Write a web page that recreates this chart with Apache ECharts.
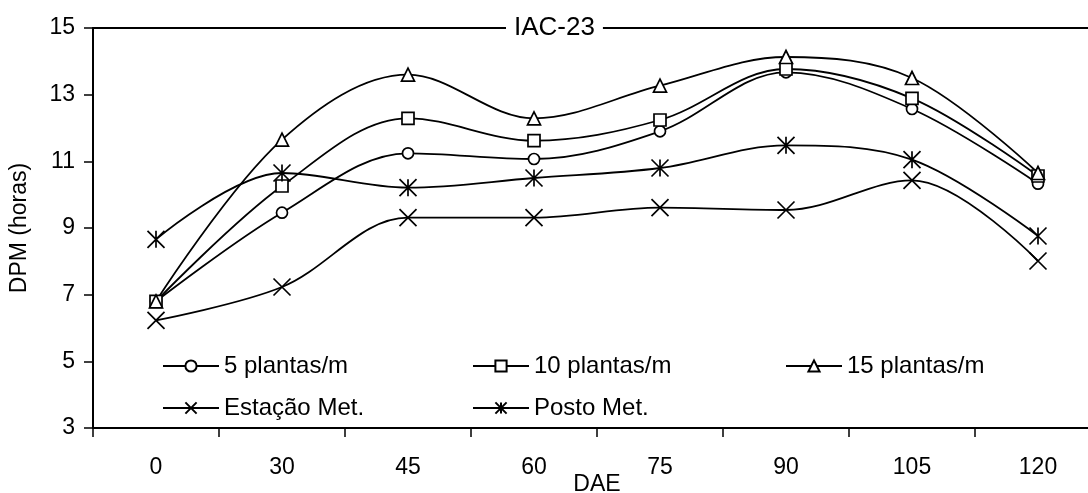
<!DOCTYPE html>
<html>
<head>
<meta charset="utf-8">
<script src="https://cdn.jsdelivr.net/npm/echarts@6/dist/echarts.min.js"></script>
<style>
html,body{margin:0;padding:0;background:#fff;}
#chart{width:1088px;height:493px;}
</style>
</head>
<body>
<div id="chart"></div>
<script>
const categories = ['0','30','45','60','75','90','105','120'];
const plantas5  = [6.8, 9.46, 11.24, 11.07, 11.90, 13.67, 12.57, 10.33];
const plantas10 = [6.8, 10.26, 12.29, 11.62, 12.24, 13.77, 12.89, 10.56];
const plantas15 = [6.8, 11.65, 13.60, 12.29, 13.27, 14.13, 13.50, 10.65];
const estacaoMet = [6.23, 7.23, 9.31, 9.31, 9.61, 9.54, 10.43, 8.01];
const postoMet   = [8.66, 10.65, 10.21, 10.50, 10.80, 11.48, 11.05, 8.76];
const seriesNames = ['5 plantas/m','10 plantas/m','15 plantas/m','Estação Met.','Posto Met.'];

const FONT = 'Liberation Sans';
const FS = 23;
const FS_LEG = 24;
const FS_TITLE = 26;
const X_PATH = 'path://M0,0L18,18M18,0L0,18';
const AST_PATH = 'path://M0,0L18,18M18,0L0,18M9,0L9,18';

function mkSeries(name, data, symbol, size) {
  return {
    name: name, type: 'line', data: data, smooth: 0.35,
    symbol: symbol, symbolSize: size,
    lineStyle: {color: '#000', width: 1.8},
    itemStyle: {color: '#fff', borderColor: '#000', borderWidth: 1.7},
    emphasis: {disabled: true},
    animation: false
  };
}

const chart = echarts.init(document.getElementById('chart'));
const legendCommon = {
  orient: 'vertical', itemWidth: 56, itemHeight: 14, itemGap: 18, padding: 0,
  textStyle: {fontFamily: FONT, fontSize: FS_LEG, color: '#000'},
  selectedMode: false
};
chart.setOption({
  backgroundColor: '#fff',
  textStyle: {fontFamily: FONT},
  title: {
    text: 'IAC-23', left: 506, top: 15, padding: [0, 8],
    backgroundColor: '#fff', z: 10,
    textStyle: {fontFamily: FONT, fontSize: FS_TITLE, fontWeight: 'normal', color: '#000'}
  },
  legend: [
    Object.assign({left: 162, top: 354, data: [seriesNames[0], seriesNames[3]]}, legendCommon),
    Object.assign({left: 472, top: 354, data: [seriesNames[1], seriesNames[4]]}, legendCommon),
    Object.assign({left: 785, top: 354, data: [seriesNames[2]]}, legendCommon)
  ],
  grid: {left: 93, right: -13, top: 28, bottom: 65, containLabel: false, outerBoundsMode: 'none'},
  xAxis: [{
    type: 'category', data: categories, boundaryGap: true, position: 'bottom',
    name: 'DAE', nameLocation: 'middle', nameGap: 45, nameMoveOverlap: false,
    nameTextStyle: {fontFamily: FONT, fontSize: FS, color: '#000'},
    axisLine: {lineStyle: {color: '#000', width: 2}},
    axisTick: {show: true, length: 9, lineStyle: {color: '#000', width: 1.5}},
    axisLabel: {fontFamily: FONT, fontSize: FS, color: '#000', margin: 28, interval: 0},
    splitLine: {show: false}
  }, {
    type: 'category', data: categories, position: 'top',
    axisLine: {lineStyle: {color: '#000', width: 2}},
    axisTick: {show: false}, axisLabel: {show: false}, splitLine: {show: false}
  }],
  yAxis: {
    type: 'value', min: 3, max: 15, interval: 2,
    name: 'DPM (horas)', nameLocation: 'middle', nameGap: 62, nameRotate: 90, nameMoveOverlap: false,
    nameTextStyle: {fontFamily: FONT, fontSize: FS, color: '#000'},
    axisLine: {show: true, lineStyle: {color: '#000', width: 2}},
    axisTick: {show: true, length: 9, lineStyle: {color: '#000', width: 1.5}},
    axisLabel: {fontFamily: FONT, fontSize: FS, color: '#000', margin: 18},
    splitLine: {show: false}
  },
  series: [
    mkSeries(seriesNames[0], plantas5, 'circle', 11),
    mkSeries(seriesNames[1], plantas10, 'rect', 12),
    mkSeries(seriesNames[2], plantas15, 'triangle', 13),
    mkSeries(seriesNames[3], estacaoMet, X_PATH, 17),
    mkSeries(seriesNames[4], postoMet, AST_PATH, 17)
  ]
});
</script>
</body>
</html>
